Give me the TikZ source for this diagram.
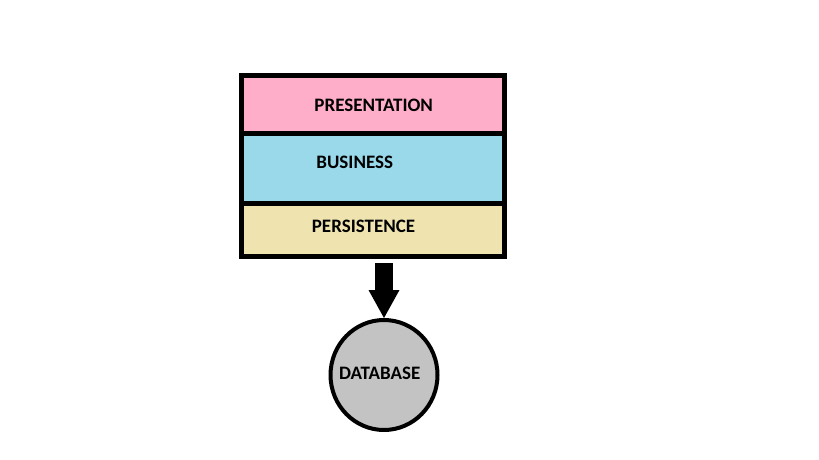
\documentclass[tikz,border=0pt]{standalone}
\usepackage{fontspec}
\setmainfont{Carlito}
\usetikzlibrary{
    arrows.meta,
    positioning,
    shapes.geometric
}
\definecolor{paintpink}{RGB}{255,174,201}
\definecolor{paintblue}{RGB}{153,217,234}
\definecolor{paintyellow}{RGB}{239,228,176}
\definecolor{paintgray}{RGB}{195,195,195}
\tikzset{
    every picture/.style = {
        x = 1pt,
        y = -1pt
    },
    layer/.style = {
        draw,
        line width = 5pt,
        rectangle,
        inner sep = 0pt,
        outer sep = 0pt,
        minimum width = 262.4pt
    },
    lbl/.style = {
        inner sep = 0pt,
        anchor = base,
        font = \fontsize{19}{22}\selectfont\bfseries
    },
    store/.style = {
        draw,
        ellipse,
        line width = 4pt,
        fill = paintgray,
        inner sep = 0pt,
        minimum width = 107pt,
        minimum height = 110pt
    }
}

\begin{document}
\begin{tikzpicture}
    \useasboundingbox (0,0) rectangle (819,460);
    % the three layers
    \node[layer, fill=paintpink,   minimum height=57.5pt] (pres) at (373,104.25) {};
    \node[layer, fill=paintblue,   minimum height=70.2pt] (biz)  at (373,168.1)  {};
    \node[layer, fill=paintyellow, minimum height=53pt]   (pers) at (373,229.7)  {};
    \path (373.7,111.4) node[lbl] {PRESENTATION};
    \path (354.7,168.4) node[lbl] {BUSINESS};
    \path (363.5,232.4) node[lbl] {PERSISTENCE};
    % the store
    \node[store] (db) at (384,375) {};
    \path (379.7,379.4) node[lbl] {DATABASE};
    % arrow
    \coordinate (out) at (384,263.3);
    \draw[line width=18pt, -{Triangle[length=28pt 0 0, width=31pt 0 0, line width=0pt 0 0]}]
        (out) -- (db.north);
\end{tikzpicture}
\end{document}
